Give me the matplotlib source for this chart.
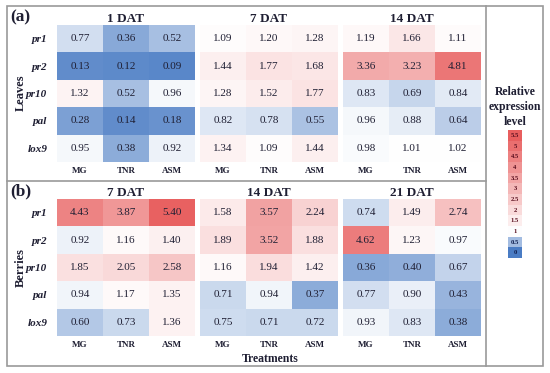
import numpy as np
import matplotlib
matplotlib.use("Agg")
import matplotlib.pyplot as plt
from matplotlib.colors import LinearSegmentedColormap
from matplotlib.patches import Rectangle
from matplotlib.lines import Line2D

genes = ["pr1", "pr2", "pr10", "pal", "lox9"]
treatments = ["MG", "TNR", "ASM"]
leaf_times = ["1 DAT", "7 DAT", "14 DAT"]
berry_times = ["7 DAT", "14 DAT", "21 DAT"]

leaves_1 = [[0.77, 0.36, 0.52], [0.13, 0.12, 0.09], [1.32, 0.52, 0.96], [0.28, 0.14, 0.18], [0.95, 0.38, 0.92]]
leaves_7 = [[1.09, 1.20, 1.28], [1.44, 1.77, 1.68], [1.28, 1.52, 1.77], [0.82, 0.78, 0.55], [1.34, 1.09, 1.44]]
leaves_14 = [[1.19, 1.66, 1.11], [3.36, 3.23, 4.81], [0.83, 0.69, 0.84], [0.96, 0.88, 0.64], [0.98, 1.01, 1.02]]

berries_7 = [[4.43, 3.87, 5.40], [0.92, 1.16, 1.40], [1.85, 2.05, 2.58], [0.94, 1.17, 1.35], [0.60, 0.73, 1.36]]
berries_14 = [[1.58, 3.57, 2.24], [1.89, 3.52, 1.88], [1.16, 1.94, 1.42], [0.71, 0.94, 0.37], [0.75, 0.71, 0.72]]
berries_21 = [[0.74, 1.49, 2.74], [4.62, 1.23, 0.97], [0.36, 0.40, 0.67], [0.77, 0.90, 0.43], [0.93, 0.83, 0.38]]

legend_levels = [0, 0.5, 1, 1.5, 2, 2.5, 3, 3.5, 4, 4.5, 5, 5.5]

cmap = LinearSegmentedColormap.from_list(
    "expr", [(0.0, "#4a7cc4"), (1 / 5.5, "#ffffff"), (1.0, "#e85e5e")])
norm = plt.Normalize(0, 5.5)

W, H = 550, 373
fig = plt.figure(figsize=(W / 100, H / 100), dpi=100)
serif = "Liberation Serif"
txtc = "#1f1f33"

def fx(x):
    return x / W

def fy(y):
    return 1 - y / H

def add_px_axes(x0, y0, x1, y1):
    return fig.add_axes([fx(x0), fy(y1), (x1 - x0) / W, (y1 - y0) / H])

group_x = [(57, 195), (200, 338), (343, 481)]
panels = [
    ((25, 162), [leaves_1, leaves_7, leaves_14], leaf_times),
    ((199, 336), [berries_7, berries_14, berries_21], berry_times),
]

for (y0, y1), datas, times in panels:
    for gi, ((x0, x1), data, t) in enumerate(zip(group_x, datas, times)):
        ax = add_px_axes(x0, y0, x1, y1)
        arr = np.array(data)
        ax.imshow(arr, cmap=cmap, norm=norm, aspect="auto", interpolation="nearest")
        for r in range(arr.shape[0]):
            for c in range(arr.shape[1]):
                ax.text(c, r, f"{arr[r, c]:.2f}", ha="center", va="center",
                        fontsize=8, family=serif, color=txtc)
        for s in ax.spines.values():
            s.set_visible(False)
        ax.set_xticks(range(3))
        ax.set_xticklabels(treatments, fontsize=6.5, family=serif, fontweight="bold", color=txtc)
        ax.tick_params(axis="x", length=0, pad=3.5)
        ax.set_title(t, fontsize=9.5, family=serif, fontweight="bold", color=txtc, pad=2)
        if gi == 0:
            ax.set_yticks(range(5))
            ax.set_yticklabels(genes, fontsize=8, family=serif, fontweight="bold",
                               style="italic", color=txtc)
            ax.tick_params(axis="y", length=0, pad=7)
        else:
            ax.set_yticks([])

# frame lines
lc = "#9a9a9a"
fig.add_artist(Rectangle((fx(7), fy(366)), (543 - 7) / W, (366 - 6) / H,
                         transform=fig.transFigure, fill=False, ec=lc, lw=1.2))
fig.add_artist(Line2D([fx(486), fx(486)], [fy(6), fy(366)], transform=fig.transFigure, color=lc, lw=1.2))
fig.add_artist(Line2D([fx(7), fx(486)], [fy(181), fy(181)], transform=fig.transFigure, color=lc, lw=1.2))

# panel labels
fig.text(fx(10), fy(17), "(a)", fontsize=12.5, family=serif, fontweight="bold", va="center", ha="left", color=txtc)
fig.text(fx(10), fy(191), "(b)", fontsize=12.5, family=serif, fontweight="bold", va="center", ha="left", color=txtc)
fig.text(fx(21), fy(93), "Leaves", fontsize=9, family=serif, fontweight="bold", rotation=90,
         va="center", ha="center", color=txtc)
fig.text(fx(21), fy(268), "Berries", fontsize=9, family=serif, fontweight="bold", rotation=90,
         va="center", ha="center", color=txtc)
fig.text(fx(270), fy(359), "Treatments", fontsize=8.5, family=serif, fontweight="bold",
         va="center", ha="center", color=txtc)
fig.text(fx(515), fy(107), "Relative\nexpression\nlevel", fontsize=8.5, family=serif, fontweight="bold",
         va="center", ha="center", color=txtc, linespacing=1.3)

# legend colorbar
cax = add_px_axes(508, 130, 522, 258)
lv = np.array(legend_levels)[::-1].reshape(-1, 1)
cax.imshow(lv, cmap=cmap, norm=norm, aspect="auto", interpolation="nearest")
for i, v in enumerate(lv[:, 0]):
    cax.text(0, i, f"{v:g}", ha="center", va="center", fontsize=4.8, family=serif,
             fontweight="bold", color="#5a1020" if v > 0.75 else "#102050")
cax.set_xticks([])
cax.set_yticks([])
for s in cax.spines.values():
    s.set_visible(False)

fig.savefig("out.png", dpi=100)
